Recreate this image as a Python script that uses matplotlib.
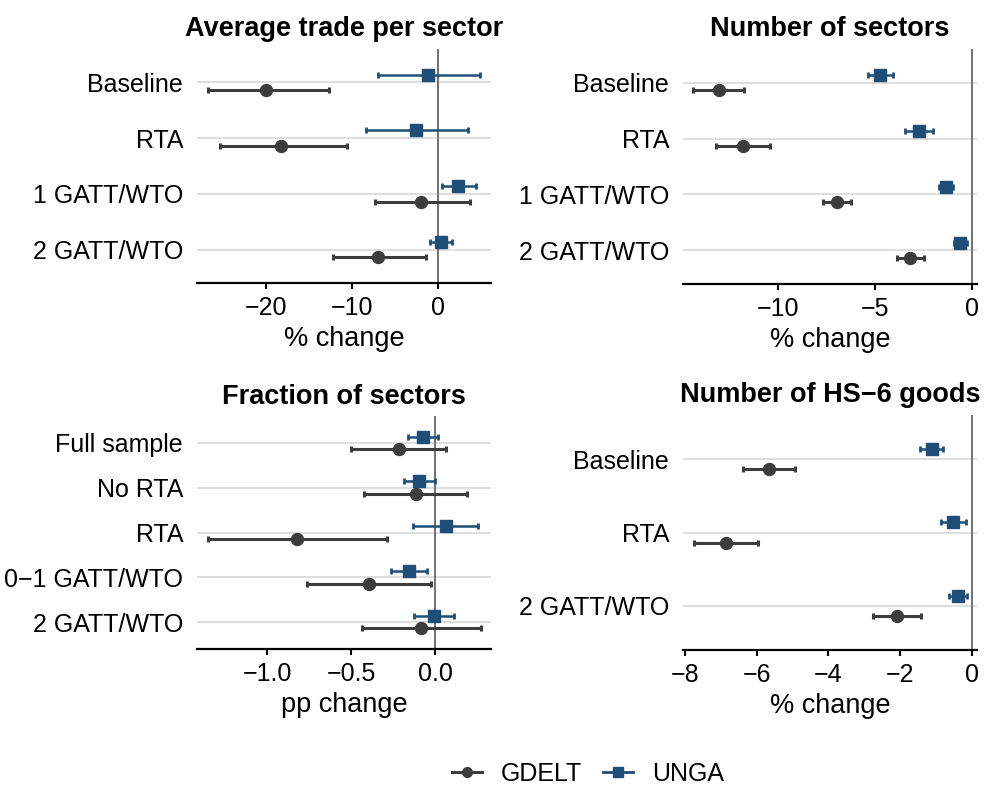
import numpy as np
import matplotlib
matplotlib.use("Agg")
import matplotlib.pyplot as plt
from matplotlib.lines import Line2D

plt.rcParams['font.family'] = ['Liberation Sans', 'DejaVu Sans']
plt.rcParams['axes.unicode_minus'] = True

GREY = "#3d3d3d"
BLUE = "#1f4e79"

# --- données ---
# panneau 1 : commerce moyen par secteur (% change)
cat_trade = ["Baseline", "RTA", "1 GATT/WTO", "2 GATT/WTO"]
gd_trade = [-20.1, -18.3, -2.0, -7.0]
gd_trade_lo = [-26.8, -25.4, -7.3, -12.2]
gd_trade_hi = [-12.75, -10.6, 3.7, -1.4]
un_trade = [-1.2, -2.6, 2.4, 0.4]
un_trade_lo = [-7.0, -8.4, 0.45, -0.9]
un_trade_hi = [4.9, 3.5, 4.4, 1.7]

# panneau 2 : nombre de secteurs (% change)
cat_nsec = ["Baseline", "RTA", "1 GATT/WTO", "2 GATT/WTO"]
gd_nsec = [-13.03, -11.78, -6.94, -3.17]
gd_nsec_lo = [-14.34, -13.17, -7.68, -3.86]
gd_nsec_hi = [-11.71, -10.39, -6.21, -2.45]
un_nsec = [-4.73, -2.75, -1.34, -0.59]
un_nsec_lo = [-5.37, -3.47, -1.70, -0.90]
un_nsec_hi = [-4.06, -2.01, -0.98, -0.28]

# panneau 3 : fraction de secteurs (pp change)
cat_frac = ["Full sample", "No RTA", "RTA", "0\u22121 GATT/WTO", "2 GATT/WTO"]
gd_frac = [-0.217, -0.116, -0.825, -0.394, -0.082]
gd_frac_lo = [-0.501, -0.422, -1.354, -0.766, -0.435]
gd_frac_hi = [0.066, 0.189, -0.286, -0.022, 0.276]
un_frac = [-0.072, -0.094, 0.063, -0.155, -0.008]
un_frac_lo = [-0.161, -0.185, -0.129, -0.262, -0.123]
un_frac_hi = [0.020, -0.002, 0.258, -0.048, 0.113]

# panneau 4 : nombre de produits HS-6 (% change)
cat_hs6 = ["Baseline", "RTA", "2 GATT/WTO"]
gd_hs6 = [-5.67, -6.86, -2.08]
gd_hs6_lo = [-6.39, -7.76, -2.75]
gd_hs6_hi = [-4.93, -5.96, -1.40]
un_hs6 = [-1.12, -0.51, -0.39]
un_hs6_lo = [-1.43, -0.85, -0.64]
un_hs6_hi = [-0.79, -0.17, -0.13]

W, H = 990, 798
fig = plt.figure(figsize=(W / 100, H / 100), dpi=100)


def px_axes(l, t, r, b):
    return fig.add_axes([l / W, 1 - b / H, (r - l) / W, (b - t) / H])


def panel(ax, title, cats, gd, gd_lo, gd_hi, un, un_lo, un_hi, xlim, xticks, xticklabels, xlabel):
    n = len(cats)
    y = np.arange(n, 0, -1).astype(float)
    off = 0.14
    for yy in y:
        ax.axhline(yy, color="#dedede", lw=1.5, zorder=0)
    ax.axvline(0, color="#707070", lw=1.4, zorder=1)

    gd = np.array(gd)
    un = np.array(un)
    ax.errorbar(gd, y - off, xerr=[gd - np.array(gd_lo), np.array(gd_hi) - gd],
                fmt='o', color=GREY, ms=8.6, elinewidth=2.2, capsize=2.2, capthick=2.2, zorder=3)
    ax.errorbar(un, y + off, xerr=[un - np.array(un_lo), np.array(un_hi) - un],
                fmt='s', color=BLUE, ms=8.0, elinewidth=1.8, capsize=2.2, capthick=2.0, zorder=4)

    ax.set_xlim(*xlim)
    ax.set_ylim(0.4, n + 0.6)
    ax.set_yticks(y)
    ax.set_yticklabels(cats)
    ax.set_xticks(xticks)
    ax.set_xticklabels(xticklabels)
    ax.tick_params(axis='y', length=0, pad=10, labelsize=18)
    ax.tick_params(axis='x', length=4.5, width=1.5, pad=5, labelsize=18, color='black')
    for s in ['top', 'right', 'left']:
        ax.spines[s].set_visible(False)
    ax.spines['bottom'].set_linewidth(1.6)
    ax.set_xlabel(xlabel, fontsize=19.5, labelpad=4)
    ax.set_title(title, fontsize=19.5, fontweight='bold', pad=9)


ax1 = px_axes(197, 49, 491, 283)
panel(ax1, "Average trade per sector", cat_trade, gd_trade, gd_trade_lo, gd_trade_hi,
      un_trade, un_trade_lo, un_trade_hi, (-28.1, 6.2), [-20, -10, 0],
      ["\u221220", "\u221210", "0"], "% change")

ax2 = px_axes(683, 49, 977, 284)
panel(ax2, "Number of sectors", cat_nsec, gd_nsec, gd_nsec_lo, gd_nsec_hi,
      un_nsec, un_nsec_lo, un_nsec_hi, (-14.87, 0.26), [-10, -5, 0],
      ["\u221210", "\u22125", "0"], "% change")

ax3 = px_axes(197, 416, 491, 649)
panel(ax3, "Fraction of sectors", cat_frac, gd_frac, gd_frac_lo, gd_frac_hi,
      un_frac, un_frac_lo, un_frac_hi, (-1.419, 0.334), [-1.0, -0.5, 0.0],
      ["\u22121.0", "\u22120.5", "0.0"], "pp change")

ax4 = px_axes(683, 415, 977, 650)
panel(ax4, "Number of HS\u22126 goods", cat_hs6, gd_hs6, gd_hs6_lo, gd_hs6_hi,
      un_hs6, un_hs6_lo, un_hs6_hi, (-8.06, 0.15), [-8, -6, -4, -2, 0],
      ["\u22128", "\u22126", "\u22124", "\u22122", "0"], "% change")

handles = [Line2D([0], [0], color=GREY, lw=2.2, marker='o', ms=7),
           Line2D([0], [0], color=BLUE, lw=2.0, marker='s', ms=7)]
fig.legend(handles, ["GDELT", "UNGA"], loc='center', bbox_to_anchor=(588 / W, 1 - 774 / H),
           ncol=2, frameon=False, fontsize=18, handlelength=1.2, handletextpad=0.75,
           columnspacing=0.85)

fig.savefig("out.png", dpi=100, facecolor='white')
